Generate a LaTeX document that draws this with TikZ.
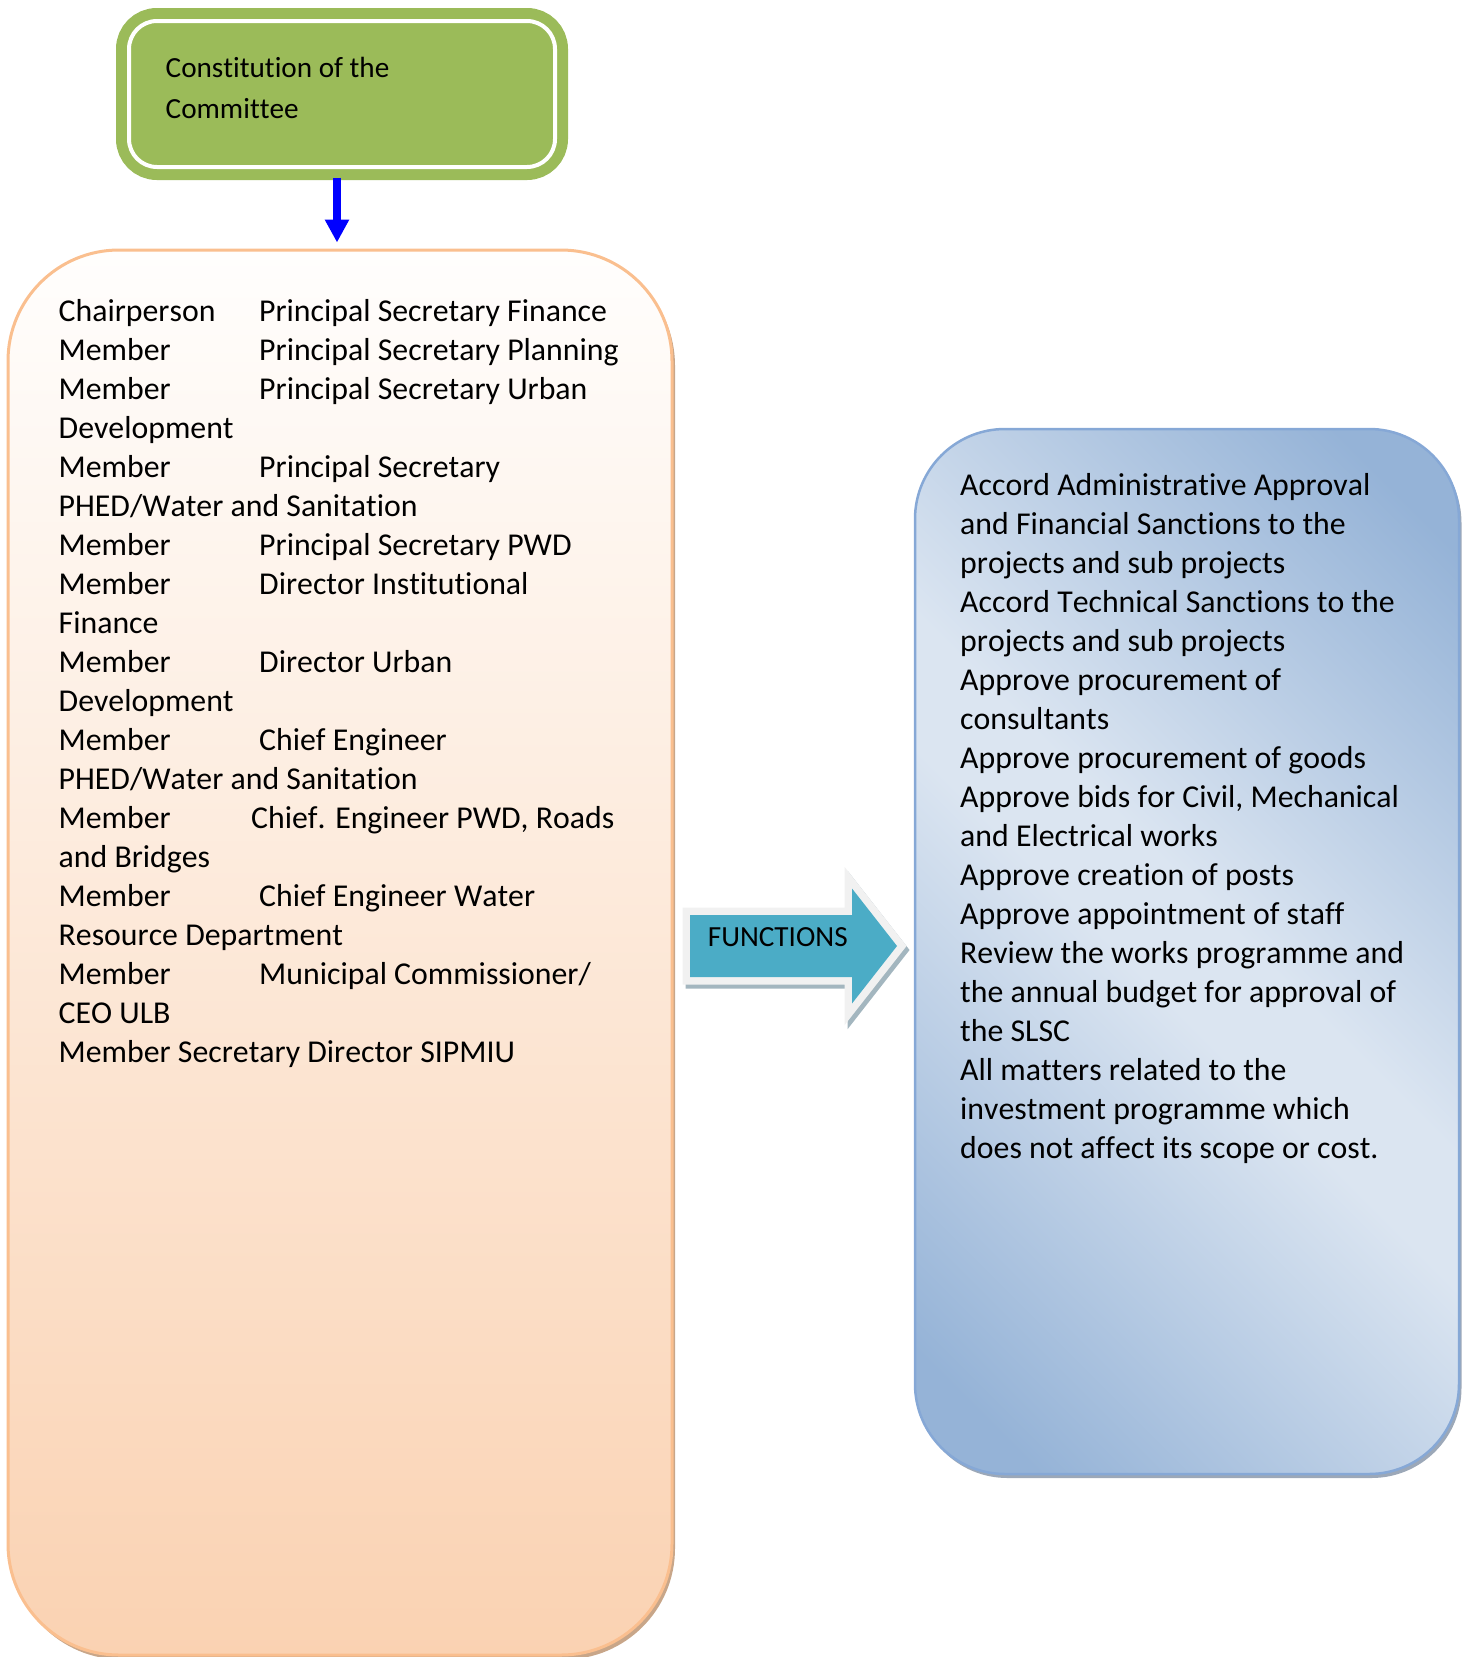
\documentclass[tikz,border=0pt]{standalone}
\usepackage{fontspec}
\setmainfont{Carlito}[Ligatures=NoCommon, Kerning=Off]
\usetikzlibrary{arrows.meta,shadows}

\definecolor{grn}{HTML}{9BBB59}
\definecolor{linkblue}{HTML}{0000FF}
\definecolor{ortop}{HTML}{FFFEFD}
\definecolor{orbot}{HTML}{FAD2B2}
\definecolor{orbd}{HTML}{FABF8F}
\definecolor{orsh}{HTML}{C8A689}
\definecolor{blt}{HTML}{DBE5F1}
\definecolor{bdk}{HTML}{95B3D7}
\definecolor{bbd}{HTML}{86A8D6}
\definecolor{bsh}{HTML}{9CA8B8}
\definecolor{fnfill}{HTML}{4BACC6}
\definecolor{fnrim}{HTML}{F1F1F1}
\definecolor{fnsh}{HTML}{A3B6BF}

% light along the main diagonal, darker towards the other two corners
\pgfdeclarehorizontalshading{bluediag}{100bp}{color(0bp)=(bdk); color(20bp)=(bdk); color(47bp)=(blt); color(53bp)=(blt); color(80bp)=(bdk); color(100bp)=(bdk)}

\newcommand\rolecol[2][200.5pt]{\makebox[#1][l]{#2}}

\begin{document}
\begin{tikzpicture}[x=1pt,y=-1pt,
  listtext/.style={font=\fontsize{31.8}{39}\selectfont, align=left, inner sep=0pt, anchor=north west, text=black},
  headtext/.style={font=\fontsize{29.2}{41}\selectfont, align=left, inner sep=0pt, anchor=north west, text=black},
  connector/.style={draw=linkblue, line width=7.3pt, -{Triangle[length=23pt 0, width=23pt 0]}},
  arrowrim/.style={draw=fnrim, line width=15pt, line join=miter, miter limit=20}]
\useasboundingbox (0,0) rectangle (1466,1657);

% heading box with its double border
\node[draw=grn, fill=grn, line width=11pt, double=white, double distance=4pt,
      rounded corners=28pt, minimum width=426pt, minimum height=146pt, inner sep=0pt] (head) at (342,94) {};
\node[headtext] (headlabel) at (165.5,48.6) {\strut Constitution of the\\Committee};

% committee members
\node[draw=orbd, line width=3pt, rounded corners=111pt, top color=ortop, bottom color=orbot,
      minimum width=664pt, minimum height=1405pt, inner sep=0pt,
      drop shadow={shadow xshift=3pt, shadow yshift=-4.5pt, fill=orsh, opacity=1}] (members) at (340,952.5) {};
\node[listtext] (memberlist) at (58.5,294.4) {\strut\rolecol{Chairperson}Principal Secretary Finance\\
\rolecol{Member}Principal Secretary Planning\\
\rolecol{Member}Principal Secretary Urban\\
Development\\
\rolecol{Member}Principal Secretary\\
PHED/Water and Sanitation\\
\rolecol{Member}Principal Secretary PWD\\
\rolecol{Member}Director Institutional\\
Finance\\
\rolecol{Member}Director Urban\\
Development\\
\rolecol{Member}Chief Engineer\\
PHED/Water and Sanitation\\
\rolecol[192.5pt]{Member}Chief. Engineer PWD, Roads\\
and Bridges\\
\rolecol{Member}Chief Engineer Water\\
Resource Department\\
\rolecol{Member}Municipal Commissioner/\\
CEO ULB\\
Member Secretary Director SIPMIU};

% connector from the heading to the member list
\coordinate (tipend) at ([xshift=-3pt,yshift=6pt]members.north);
\coordinate (tipstart) at ([yshift=-5pt]head.south);
\draw[connector] (tipstart -| tipend) -- (tipend);

% functions box
\node[draw=bbd, line width=2.5pt, rounded corners=90pt, shade, shading=bluediag, shading angle=45,
      minimum width=544pt, minimum height=1045pt, inner sep=0pt,
      drop shadow={shadow xshift=2.5pt, shadow yshift=-4pt, fill=bsh, opacity=1}] (functions) at (1187,951.5) {};
\node[listtext] (functionlist) at (960,467.7) {\strut Accord Administrative Approval\\
and Financial Sanctions to the\\
projects and sub projects\\
Accord Technical Sanctions to the\\
projects and sub projects\\
Approve procurement of\\
consultants\\
Approve procurement of goods\\
Approve bids for Civil, Mechanical\\
and Electrical works\\
Approve creation of posts\\
Approve appointment of staff\\
Review the works programme and\\
the annual budget for approval of\\
the SLSC\\
All matters related to the\\
investment programme which\\
does not affect its scope or cost.};

% block arrow between the two boxes
\draw[arrowrim, draw=fnsh, shift={(3,4)}]
  (690,915) -- (852,915) -- (852,888.5) -- (897,946) -- (852,1003.5) -- (852,977) -- (690,977) -- cycle;
\draw[arrowrim, postaction={fill=fnfill}]
  (690,915) -- (852,915) -- (852,888.5) -- (897,946) -- (852,1003.5) -- (852,977) -- (690,977) -- cycle;
\node[font=\fontsize{29.2}{35}\selectfont, inner sep=0pt, anchor=base west] (fnlabel) at (707.7,946) {FUNCTIONS};
\end{tikzpicture}
\end{document}
